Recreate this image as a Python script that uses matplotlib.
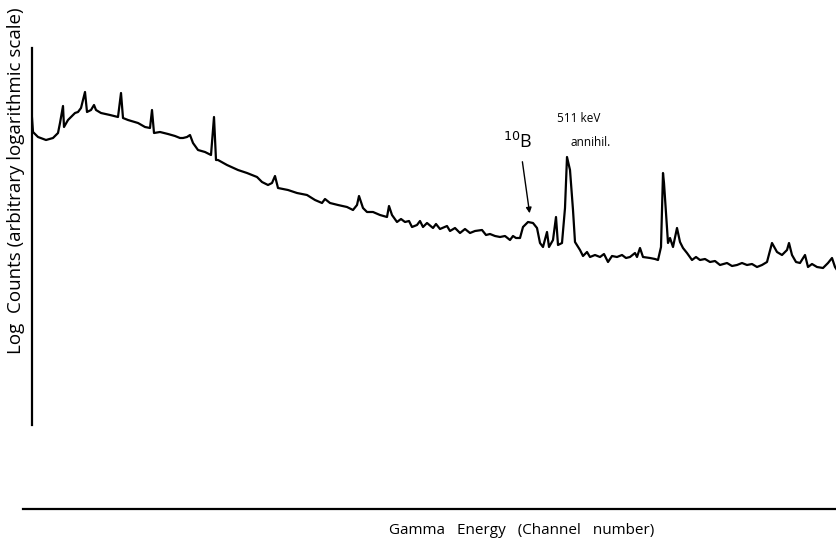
import matplotlib
matplotlib.use("Agg")
import matplotlib.pyplot as plt

# Channel number (arbitrary units) and log counts (arbitrary units)
channel = [0, 1, 6, 14, 21, 26, 28, 31, 32, 36,
           43, 46, 49, 51, 53, 55, 59, 62, 64, 69,
           78, 86, 89, 91, 96, 106, 113, 118, 120, 122,
           128, 136, 143, 148, 151, 155, 158, 161, 166, 173,
           179, 182, 184, 186, 195, 206, 215, 220, 225, 230,
           236, 240, 243, 246, 256, 265, 275, 283, 290, 293,
           298, 306, 315, 321, 325, 327, 331, 335, 341, 348,
           355, 357, 360, 365, 369, 373, 377, 380, 385, 388,
           391, 395, 401, 404, 408, 415, 418, 423, 428, 433,
           438, 443, 450, 454, 458, 463, 468, 473, 478, 481,
           484, 488, 491, 496, 501, 505, 508, 511, 515, 517,
           521, 524, 526, 530, 533, 535, 538, 541, 543, 548,
           551, 555, 558, 563, 568, 572, 576, 580, 585, 590,
           594, 598, 603, 605, 608, 611, 618, 623, 626, 629,
           631, 632, 634, 636, 638, 641, 645, 648, 651, 655,
           660, 664, 668, 673, 678, 683, 688, 695, 700, 705,
           710, 715, 720, 725, 730, 735, 740, 745, 750, 755,
           757, 760, 764, 768, 773, 776, 780, 785, 791, 796,
           800, 803, 805]
logcounts = [307, 293, 288, 285, 287, 292, 302, 319, 298, 305,
             312, 313, 317, 325, 333, 313, 315, 320, 315, 312,
             310, 308, 332, 307, 305, 302, 298, 297, 315, 292,
             293, 291, 289, 287, 287, 288, 290, 282, 275, 273,
             270, 308, 265, 265, 260, 255, 252, 250, 248, 243,
             240, 242, 249, 237, 235, 232, 230, 225, 222, 226,
             222, 220, 218, 215, 220, 229, 217, 213, 213, 210,
             208, 219, 210, 203, 206, 203, 204, 198, 200, 204,
             198, 202, 197, 201, 196, 199, 194, 197, 192, 196,
             192, 194, 195, 190, 191, 189, 188, 189, 185, 189,
             187, 187, 198, 203, 202, 197, 182, 178, 193, 178,
             185, 208, 180, 182, 217, 268, 255, 215, 183, 175,
             169, 173, 168, 170, 168, 171, 163, 169, 168, 170,
             167, 168, 172, 168, 177, 168, 167, 166, 165, 178,
             252, 242, 212, 182, 187, 178, 197, 183, 177, 172,
             165, 168, 165, 166, 163, 164, 160, 162, 159, 160,
             162, 160, 161, 158, 160, 163, 182, 173, 170, 175,
             182, 170, 163, 162, 170, 158, 161, 158, 157, 162,
             167, 158, 155]

fig = plt.figure(figsize=(8.37, 5.45), dpi=100)
fig.patch.set_facecolor("white")

W, H = 837, 545
ax = fig.add_axes([32 / W, (H - 425) / H, (837 - 32) / W, (425 - 48) / H])
ax.plot(channel, logcounts, color="black", lw=1.6, solid_joinstyle="round")
ax.set_xlim(0, 805)
ax.set_ylim(0, 377)
ax.set_xticks([])
ax.set_yticks([])
for s in ["top", "right"]:
    ax.spines[s].set_visible(False)
ax.spines["left"].set_linewidth(1.6)
ax.spines["bottom"].set_linewidth(1.6)
ax.spines["bottom"].set_position(("outward", 84 * 72 / 100))
ax.spines["bottom"].set_bounds(-9, 803)
ax.set_facecolor("none")

font = "Open Sans"
fig.text(16 / W, 1 - 181 / H, "Log  Counts (arbitrary logarithmic scale)", rotation=90,
         ha="center", va="center", fontsize=13.5, family=font)
fig.text(522 / W, 1 - 530 / H, "Gamma   Energy   (Channel   number)", ha="center",
         va="center", fontsize=11, family=font)

# annotations
ax.text(471, 425 - 142, r"$^{10}$B", fontsize=13, family=font, va="center", ha="left")
ax.annotate("", xy=(498, 425 - 216), xytext=(490, 425 - 159),
            arrowprops=dict(arrowstyle="-|>", color="black", lw=1.0, mutation_scale=8))
ax.text(525, 425 - 118, "511 keV", fontsize=8.5, family=font, va="center", ha="left")
ax.text(539, 425 - 142, "annihil.", fontsize=8.5, family=font, va="center", ha="left")

fig.savefig("out.png", dpi=100, facecolor="white")
